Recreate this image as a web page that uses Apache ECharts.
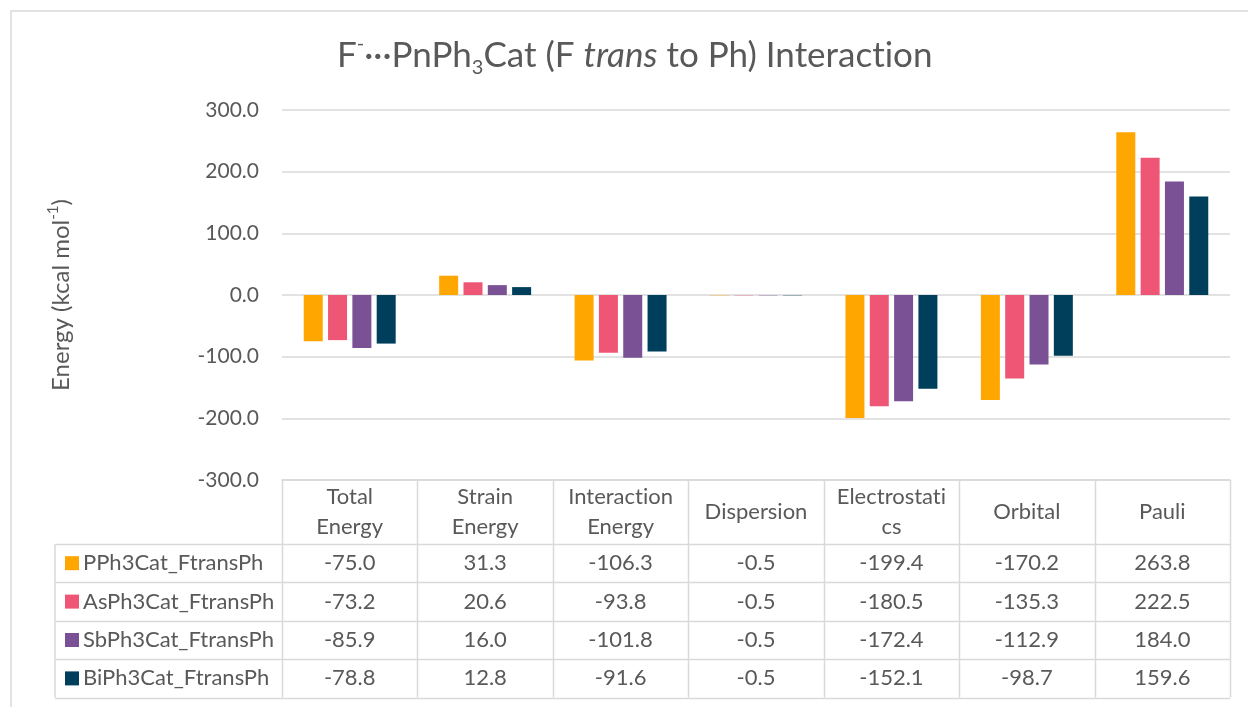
<!DOCTYPE html>
<html>
<head>
<meta charset="utf-8">
<script src="https://cdn.jsdelivr.net/npm/echarts@6/dist/echarts.min.js"></script>
<style>
  html, body { margin: 0; padding: 0; background: #fff; }
  #chart { width: 1248px; height: 707px; }
</style>
</head>
<body>
<div id="chart"></div>
<script>
// data
const categories = ['Total\nEnergy', 'Strain\nEnergy', 'Interaction\nEnergy', 'Dispersion', 'Electrostati\ncs', 'Orbital', 'Pauli']
const seriesNames = ['PPh3Cat_FtransPh', 'AsPh3Cat_FtransPh', 'SbPh3Cat_FtransPh', 'BiPh3Cat_FtransPh']
const PPh3 = [-75.0, 31.3, -106.3, -0.5, -199.4, -170.2, 263.8]
const AsPh3 = [-73.2, 20.6, -93.8, -0.5, -180.5, -135.3, 222.5]
const SbPh3 = [-85.9, 16.0, -101.8, -0.5, -172.4, -112.9, 184.0]
const BiPh3 = [-78.8, 12.8, -91.6, -0.5, -152.1, -98.7, 159.6]
const colors = ['#FFA600', '#EF5675', '#7A5195', '#003F5C']
const yTicks = { min: -300, max: 300, interval: 100 }

const FONT = 'Lato, "Noto Sans", sans-serif'
const TXT = '#595959'
const LINE = '#D9D9D9'

// plot area (px)
const GRID_L = 282, GRID_R = 18, GRID_T = 110, GRID_B = 227
// table rows under the axis
const HEADER_H = 64
const ROW_H = 38.4
const LEGEND_X = 55

// Lato turns "ti" into a ligature, break it with a zero width non-joiner
const noLig = (s) => s.replace(/ti/g, 't\u200Ci')

const chart = echarts.init(document.getElementById('chart'))
const allData = [PPh3, AsPh3, SbPh3, BiPh3]

var option = {
  animation: false,
  title: {
    text: '{n|F}{sup|-}{n|···PnPh}{sub|3}{n|Cat (F }{i|trans}{n| to Ph) ' + noLig('Interaction') + '}',
    left: 332,
    top: 29,
    textStyle: {
      rich: {
        n: { fontFamily: FONT, fontSize: 35, color: TXT, fontWeight: 'normal', lineHeight: 44 },
        i: { fontFamily: FONT, fontSize: 35, color: TXT, fontStyle: 'italic', fontWeight: 'normal', lineHeight: 44 },
        sup: { fontFamily: FONT, fontSize: 20, color: TXT, fontWeight: 'normal', verticalAlign: 'top', lineHeight: 20 },
        sub: { fontFamily: FONT, fontSize: 20, color: TXT, fontWeight: 'normal', verticalAlign: 'bottom', lineHeight: 20 },
      },
    },
  },
  grid: { left: GRID_L, right: GRID_R, top: GRID_T, bottom: GRID_B },
  xAxis: {
    type: 'category',
    data: categories,
    axisLine: { onZero: false, lineStyle: { color: LINE, width: 1.5 } },
    axisTick: { show: false },
    axisLabel: {
      interval: 0,
      color: TXT,
      fontFamily: FONT,
      fontSize: 22,
      lineHeight: 30,
      verticalAlign: 'middle',
      margin: HEADER_H / 2,
      formatter: (v) => noLig(v),
    },
  },
  yAxis: {
    type: 'value',
    min: yTicks.min,
    max: yTicks.max,
    interval: yTicks.interval,
    name: '{t|Energy (kcal mol}{s|-1}{t|)}',
    nameLocation: 'middle',
    nameGap: 206,
    nameRotate: 90,
    nameTextStyle: {
      rich: {
        t: { fontFamily: FONT, fontSize: 24, color: TXT, lineHeight: 30 },
        s: { fontFamily: FONT, fontSize: 15, color: TXT, verticalAlign: 'top', lineHeight: 15 },
      },
    },
    axisLine: { show: false },
    axisTick: { show: false },
    axisLabel: {
      color: TXT,
      fontFamily: FONT,
      fontSize: 21,
      margin: 23,
      formatter: (v) => v.toFixed(1),
    },
    splitLine: { lineStyle: { color: LINE, width: 1.5 } },
  },
  series: seriesNames.map((name, i) => ({
    name: name,
    type: 'bar',
    data: allData[i],
    barWidth: 19,
    barGap: '28%',
    itemStyle: { color: colors[i] },
  })),
}

chart.setOption(option)

// data table drawn below the plot, aligned on the category axis
function buildTable() {
  const axisY = chart.convertToPixel({ yAxisIndex: 0 }, yTicks.min)
  const x0 = GRID_L
  const x1 = 1248 - GRID_R
  const band = (x1 - x0) / categories.length
  const rowTop = axisY + HEADER_H
  const bottom = rowTop + ROW_H * seriesNames.length
  const els = []
  const lineStyle = { stroke: LINE, lineWidth: 1.5 }
  const font = '22px ' + FONT

  // outer chart border
  els.push({ type: 'rect', shape: { x: 11, y: 11, width: 1300, height: 800 }, style: { fill: null, stroke: LINE, lineWidth: 1.5 }, silent: true })

  // vertical column lines
  for (let i = 0; i <= categories.length; i++) {
    const x = Math.round(x0 + i * band) + 0.5
    els.push({ type: 'line', shape: { x1: x, y1: axisY, x2: x, y2: bottom }, style: lineStyle, silent: true })
  }
  els.push({ type: 'line', shape: { x1: LEGEND_X, y1: rowTop, x2: LEGEND_X, y2: bottom }, style: lineStyle, silent: true })

  // horizontal row lines
  for (let r = 0; r <= seriesNames.length; r++) {
    const y = Math.round(rowTop + r * ROW_H) + 0.5
    els.push({ type: 'line', shape: { x1: LEGEND_X, y1: y, x2: x1, y2: y }, style: lineStyle, silent: true })
  }

  // rows: legend key + values
  seriesNames.forEach((name, r) => {
    const cy = rowTop + r * ROW_H + ROW_H / 2
    els.push({ type: 'rect', shape: { x: 65, y: cy - 7, width: 14, height: 14 }, style: { fill: colors[r] }, silent: true })
    els.push({ type: 'text', x: 83, y: cy, style: { text: name, fill: TXT, font: font, textAlign: 'left', textVerticalAlign: 'middle' }, silent: true })
    allData[r].forEach((v, c) => {
      const cx = chart.convertToPixel({ xAxisIndex: 0 }, c)
      els.push({ type: 'text', x: cx, y: cy, style: { text: v.toFixed(1), fill: TXT, font: font, textAlign: 'center', textVerticalAlign: 'middle' }, silent: true })
    })
  })
  return els
}

chart.setOption({ graphic: { elements: buildTable() } })
</script>
</body>
</html>
